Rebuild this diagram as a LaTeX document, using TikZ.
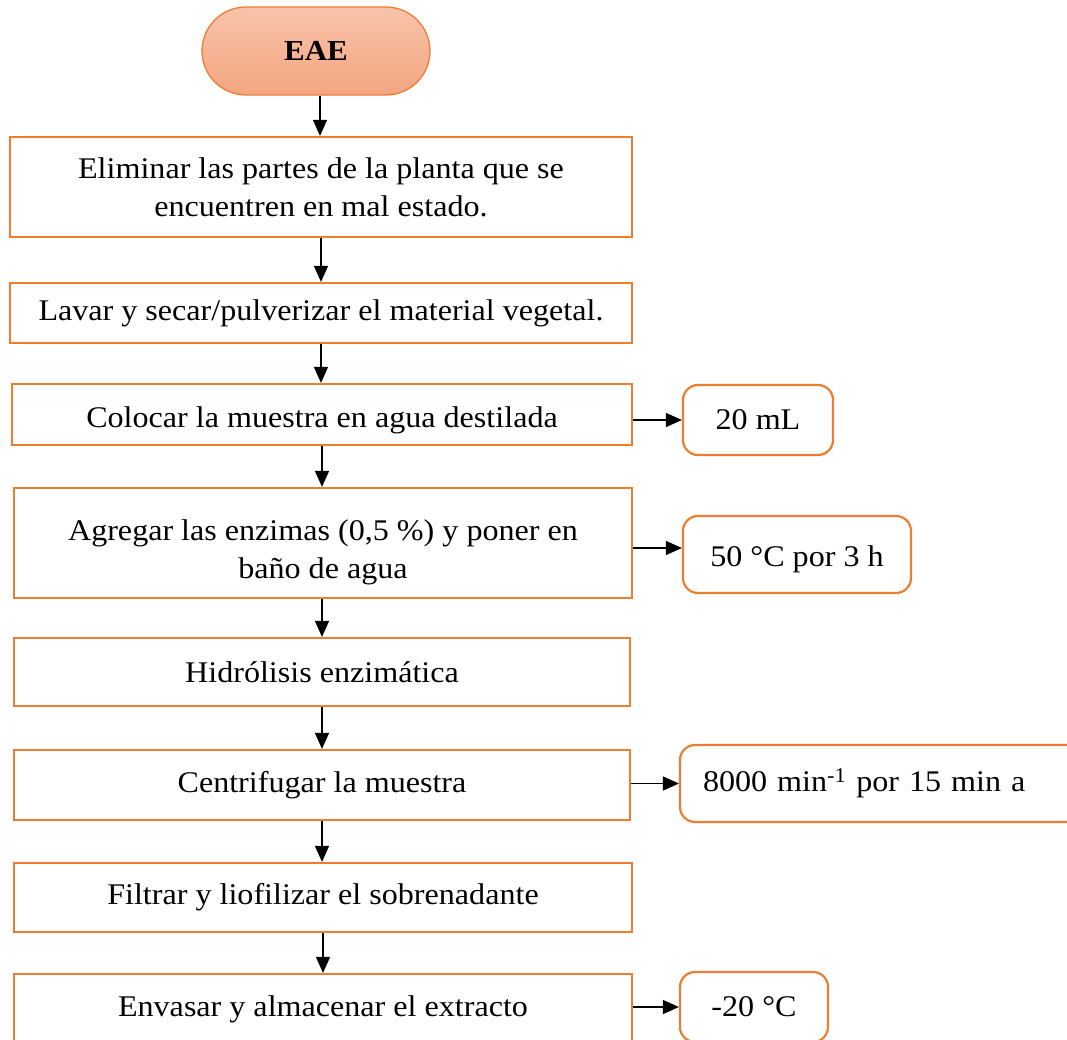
\documentclass[tikz,border=0pt]{standalone}
\usepackage{fontspec}
\setmainfont[FakeStretch=1.07]{Liberation Serif}
\usetikzlibrary{arrows.meta,shapes.misc}

\definecolor{edge}{RGB}{237,125,49}
\definecolor{pilltop}{RGB}{248,196,170}
\definecolor{pillbot}{RGB}{244,165,128}

\tikzset{
  base/.style={font=\fontsize{30}{38}\selectfont, inner sep=0pt, align=center},
  stepbox/.style={base, draw=edge, line width=2.2pt, rectangle},
  notebox/.style={base, draw=edge, line width=2.2pt, rectangle, rounded corners=15pt},
  pill/.style={draw=edge, line width=1.3pt, rounded rectangle, inner sep=0pt,
    top color=pilltop, bottom color=pillbot,
    font=\fontsize{29}{34}\selectfont\bfseries},
  arr/.style={draw=black, line width=1.3pt, -{Triangle[length=16pt,width=14pt]}},
  lowtext/.style={text height=#1}
}

\begin{document}
\begin{tikzpicture}[x=1pt,y=-1pt]
  \useasboundingbox (0,0) rectangle (1067,1040);
  \clip (0,0) rectangle (1067,1040);

  % start terminal
  \node[pill, minimum width=228pt, minimum height=88pt] (eae) at (316,51) {EAE};

  % main sequence of steps
  \node[stepbox, minimum width=622pt, minimum height=100pt] (b1) at (321,187)
    {Eliminar las partes de la planta que se\\encuentren en mal estado.};
  \node[stepbox, minimum width=622pt, minimum height=60pt] (b2) at (321,313)
    {Lavar y secar/pulverizar el material vegetal.};
  \node[stepbox, lowtext=33pt, minimum width=620pt, minimum height=61pt] (b3) at (322,414.5)
    {Colocar la muestra en agua destilada};
  \node[stepbox, lowtext=77pt, minimum width=618pt, minimum height=110pt] (b4) at (323,543)
    {Agregar las enzimas (0,5 \%) y poner en\\baño de agua};
  \node[stepbox, minimum width=616pt, minimum height=68pt] (b5) at (322,672)
    {Hidrólisis enzimática};
  \node[stepbox, minimum width=616pt, minimum height=70pt] (b6) at (322,785)
    {Centrifugar la muestra};
  \node[stepbox, minimum width=618pt, minimum height=69pt] (b7) at (323,897.5)
    {Filtrar y liofilizar el sobrenadante};
  \node[stepbox, minimum width=618pt, minimum height=70pt] (b8) at (323,1009)
    {Envasar y almacenar el extracto};

  % conditions beside the steps
  \node[notebox, minimum width=150pt, minimum height=70pt] (r1) at (758,420) {20 mL};
  \node[notebox, lowtext=30pt, minimum width=228pt, minimum height=77pt] (r2) at (797,554.5)
    {50 °C por 3 h};
  \node[notebox, minimum width=420pt, minimum height=77pt, text width=374pt, align=left]
    (r3) at (890,783.5) {8000 min\textsuperscript{-1} por 15 min a};
  \node[notebox, minimum width=148pt, minimum height=70pt] (r4) at (754,1007) {-20 °C};

  % vertical flow
  \draw[arr] (eae.south -| 320,0) -- (b1.north -| 320,0);
  \draw[arr] (b1.south) -- (b2.north);
  \draw[arr] (b2.south) -- (b3.north -| b2.south);
  \draw[arr] (b3.south) -- (b4.north -| b3.south);
  \draw[arr] (b4.south -| b5.north) -- (b5.north);
  \draw[arr] (b5.south) -- (b6.north);
  \draw[arr] (b6.south) -- (b7.north -| b6.south);
  \draw[arr] (b7.south -| b8.north) -- (b8.north);

  % side branches
  \draw[arr] (b3.east |- r1.west) -- (r1.west);
  \draw[arr] (b4.east |- 0,548) -- (r2.west |- 0,548);
  \draw[arr] (b6.east |- r3.west) -- (r3.west);
  \draw[arr] (b8.east |- r4.west) -- (r4.west);
\end{tikzpicture}
\end{document}
